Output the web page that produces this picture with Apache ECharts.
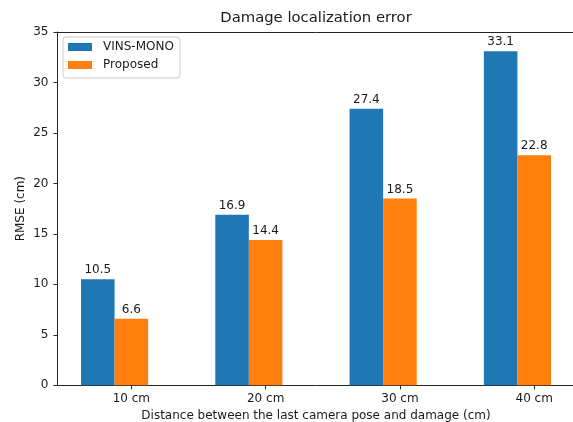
<!DOCTYPE html>
<html>
<head>
<meta charset="utf-8">
<title>Damage localization error</title>
<script src="https://cdn.jsdelivr.net/npm/echarts@6/dist/echarts.min.js"></script>
<style>
  html, body { margin: 0; padding: 0; background: #ffffff; }
  #chart { width: 573px; height: 422px; }
</style>
</head>
<body>
<div id="chart"></div>
<script>
// Distance categories and RMSE values (cm)
const categories = ['10 cm', '20 cm', '30 cm', '40 cm'];
const vinsMono = [10.5, 16.9, 27.4, 33.1];
const proposed = [6.6, 14.4, 18.5, 22.8];
const seriesNames = ['VINS-MONO', 'Proposed'];

const FONT = 'DejaVu Sans';
const TEXT = '#1a1a1a';
const SPINE = '#262626';

// Category positions on a numeric x scale; the first group sits left of each tick
const barUnit = 0.25;
const xMin = -0.55, xMax = 3.3;
const gridLeft = 57.5, gridRight = -1.5, gridTop = 32, gridBottom = 36.7;
const chartW = 573;
const gridW = chartW - gridLeft - gridRight;
const barPx = barUnit * gridW / (xMax - xMin);

const tickIdx = categories.map((_, i) => i);
const vinsData = vinsMono.map((v, i) => [i - barUnit, v]);
const propData = proposed.map((v, i) => [i, v]);

const chart = echarts.init(document.getElementById('chart'), null, { renderer: 'canvas' });

const labelStyle = {
  show: true,
  position: 'top',
  distance: 3,
  fontFamily: FONT,
  fontSize: 12,
  color: TEXT,
  formatter: p => p.value[1].toFixed(1)
};

chart.setOption({
  animation: false,
  backgroundColor: '#ffffff',
  title: {
    text: 'Damage localization error',
    left: (gridLeft + chartW - gridRight) / 2,
    textAlign: 'center',
    top: 11,
    padding: 0,
    textStyle: { fontFamily: FONT, fontSize: 14.8, fontWeight: 'normal', color: TEXT }
  },
  legend: {
    data: seriesNames,
    orient: 'vertical',
    left: 63,
    top: 37,
    padding: [3, 6, 6, 5],
    itemWidth: 24,
    itemHeight: 8,
    itemGap: 4,
    borderColor: '#cccccc',
    borderWidth: 1,
    borderRadius: 3,
    backgroundColor: 'rgba(255,255,255,0.8)',
    icon: 'rect',
    textStyle: { fontFamily: FONT, fontSize: 12, color: TEXT, lineHeight: 14, padding: [0, 0, 0, 6] }
  },
  grid: {
    left: gridLeft,
    right: gridRight,
    top: gridTop,
    bottom: gridBottom,
    show: false,
    containLabel: false,
    outerBoundsMode: 'none'
  },
  xAxis: [
    {
      type: 'value',
      min: xMin,
      max: xMax,
      name: 'Distance between the last camera pose and damage (cm)',
      nameLocation: 'middle',
      nameGap: 25,
      nameMoveOverlap: false,
      nameTextStyle: { fontFamily: FONT, fontSize: 12, color: TEXT },
      axisLine: { show: true, onZero: false, lineStyle: { color: SPINE, width: 1 } },
      axisTick: { show: true, customValues: tickIdx, length: 4, lineStyle: { color: SPINE } },
      axisLabel: {
        customValues: tickIdx,
        formatter: v => categories[Math.round(v)],
        fontFamily: FONT, fontSize: 12, color: TEXT, margin: 8
      },
      splitLine: { show: false }
    },
    {
      // top frame line
      type: 'value',
      position: 'top',
      min: xMin,
      max: xMax,
      axisLine: { show: true, onZero: false, lineStyle: { color: SPINE, width: 1 } },
      axisTick: { show: false },
      axisLabel: { show: false },
      splitLine: { show: false }
    }
  ],
  yAxis: {
    type: 'value',
    min: 0,
    max: 35,
    interval: 5,
    name: 'RMSE (cm)',
    nameLocation: 'middle',
    nameGap: 31,
    nameMoveOverlap: false,
    nameTextStyle: { fontFamily: FONT, fontSize: 12, color: TEXT },
    axisLine: { show: true, onZero: false, lineStyle: { color: SPINE, width: 1 } },
    axisTick: { show: true, length: 4, lineStyle: { color: SPINE } },
    axisLabel: { fontFamily: FONT, fontSize: 12, color: TEXT, margin: 9 },
    splitLine: { show: false }
  },
  series: [
    {
      name: seriesNames[0],
      type: 'bar',
      data: vinsData,
      barWidth: barPx,
      barGap: '-100%',
      itemStyle: { color: '#1f77b4' },
      label: labelStyle
    },
    {
      name: seriesNames[1],
      type: 'bar',
      data: propData,
      barWidth: barPx,
      barGap: '-100%',
      itemStyle: { color: '#ff7f0e' },
      label: labelStyle
    }
  ]
});
</script>
</body>
</html>
